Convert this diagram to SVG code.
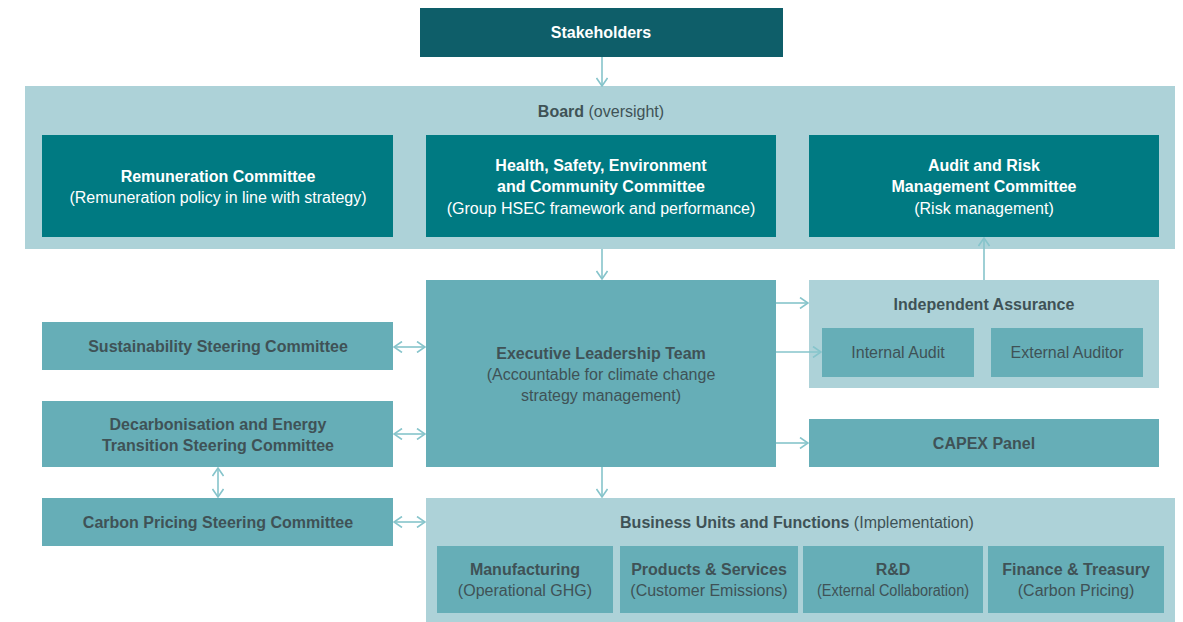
<svg xmlns="http://www.w3.org/2000/svg" width="1183" height="622" viewBox="0 0 1183 622">
  <style>
    .dark { fill: #0e5e69; }
    .mid { fill: #007a82; }
    .box { fill: #66aeb7; }
    .panel { fill: #add2d8; }
    text { font-family: "Liberation Sans", Arial, sans-serif; font-size: 16px; text-anchor: middle; }
    .w { fill: #ffffff; }
    .g { fill: #3f5256; }
    .b { font-weight: bold; }
    .conn { stroke: #86c4cb; stroke-width: 1.6; fill: none; }
  </style>
  <defs>
    <marker id="head" viewBox="0 0 10 12" refX="9" refY="6" markerWidth="10" markerHeight="12" markerUnits="userSpaceOnUse" orient="auto-start-reverse">
      <path d="M1,0.5 L9,6 L1,11.5" fill="none" stroke="#86c4cb" stroke-width="1.6"/>
    </marker>
  </defs>

  <rect width="1183" height="622" fill="#ffffff"/>

  <g id="stakeholders">
    <rect class="dark" x="420" y="8" width="363" height="49"/>
    <text class="w b" x="601" y="38">Stakeholders</text>
  </g>

  <g id="board">
    <rect class="panel" x="25" y="86" width="1150" height="163"/>
    <text class="g" x="601" y="117"><tspan class="b">Board</tspan> (oversight)</text>
  </g>

  <g id="remuneration">
    <rect class="mid" x="42" y="135" width="351" height="102"/>
    <text class="w b" x="218" y="182">Remuneration Committee</text>
    <text class="w" x="218" y="203">(Remuneration policy in line with strategy)</text>
  </g>

  <g id="hsec">
    <rect class="mid" x="426" y="135" width="350" height="102"/>
    <text class="w b" x="601" y="171">Health, Safety, Environment</text>
    <text class="w b" x="601" y="192">and Community Committee</text>
    <text class="w" x="601" y="214">(Group HSEC framework and performance)</text>
  </g>

  <g id="audit-risk">
    <rect class="mid" x="809" y="135" width="350" height="102"/>
    <text class="w b" x="984" y="171">Audit and Risk</text>
    <text class="w b" x="984" y="192">Management Committee</text>
    <text class="w" x="984" y="214">(Risk management)</text>
  </g>

  <g id="elt">
    <rect class="box" x="426" y="280" width="350" height="187"/>
    <text class="g b" x="601" y="359">Executive Leadership Team</text>
    <text class="g" x="601" y="380">(Accountable for climate change</text>
    <text class="g" x="601" y="401">strategy management)</text>
  </g>

  <g id="independent-assurance">
    <rect class="panel" x="809" y="280" width="350" height="108"/>
    <text class="g b" x="984" y="310">Independent Assurance</text>
    <rect class="box" x="822" y="328" width="152" height="49"/>
    <text class="g" x="898" y="358">Internal Audit</text>
    <rect class="box" x="991" y="328" width="152" height="49"/>
    <text class="g" x="1067" y="358">External Auditor</text>
  </g>

  <g id="capex">
    <rect class="box" x="809" y="419" width="350" height="48"/>
    <text class="g b" x="984" y="449">CAPEX Panel</text>
  </g>

  <g id="sustainability">
    <rect class="box" x="42" y="322" width="351" height="48"/>
    <text class="g b" x="218" y="352">Sustainability Steering Committee</text>
  </g>

  <g id="decarbonisation">
    <rect class="box" x="42" y="401" width="351" height="66"/>
    <text class="g b" x="218" y="430">Decarbonisation and Energy</text>
    <text class="g b" x="218" y="451">Transition Steering Committee</text>
  </g>

  <g id="carbon-pricing">
    <rect class="box" x="42" y="498" width="351" height="48"/>
    <text class="g b" x="218" y="528">Carbon Pricing Steering Committee</text>
  </g>

  <g id="business-units">
    <rect class="panel" x="426" y="498" width="749" height="124"/>
    <text class="g" x="797" y="528"><tspan class="b">Business Units and Functions</tspan> (Implementation)</text>
    <rect class="box" x="437" y="546" width="176" height="67"/>
    <text class="g b" x="525" y="575">Manufacturing</text>
    <text class="g" x="525" y="596">(Operational GHG)</text>
    <rect class="box" x="620" y="546" width="178" height="67"/>
    <text class="g b" x="709" y="575">Products &amp; Services</text>
    <text class="g" x="709" y="596">(Customer Emissions)</text>
    <rect class="box" x="803" y="546" width="180" height="67"/>
    <text class="g b" x="893" y="575">R&amp;D</text>
    <text class="g" x="893" y="596" textLength="152" lengthAdjust="spacingAndGlyphs">(External Collaboration)</text>
    <rect class="box" x="988" y="546" width="176" height="67"/>
    <text class="g b" x="1076" y="575">Finance &amp; Treasury</text>
    <text class="g" x="1076" y="596">(Carbon Pricing)</text>
  </g>

  <g id="connectors">
    <line class="conn" x1="602" y1="57" x2="602" y2="86" marker-end="url(#head)"/>
    <line class="conn" x1="602" y1="249" x2="602" y2="279" marker-end="url(#head)"/>
    <line class="conn" x1="984" y1="280" x2="984" y2="238" marker-end="url(#head)"/>
    <line class="conn" x1="776" y1="303" x2="808" y2="303" marker-end="url(#head)"/>
    <line class="conn" x1="776" y1="352" x2="821" y2="352" marker-end="url(#head)"/>
    <line class="conn" x1="776" y1="443" x2="808" y2="443" marker-end="url(#head)"/>
    <line class="conn" x1="394" y1="347" x2="425" y2="347" marker-start="url(#head)" marker-end="url(#head)"/>
    <line class="conn" x1="394" y1="434" x2="425" y2="434" marker-start="url(#head)" marker-end="url(#head)"/>
    <line class="conn" x1="394" y1="522" x2="425" y2="522" marker-start="url(#head)" marker-end="url(#head)"/>
    <line class="conn" x1="218" y1="468" x2="218" y2="497" marker-start="url(#head)" marker-end="url(#head)"/>
    <line class="conn" x1="602" y1="467" x2="602" y2="497" marker-end="url(#head)"/>
  </g>
</svg>
